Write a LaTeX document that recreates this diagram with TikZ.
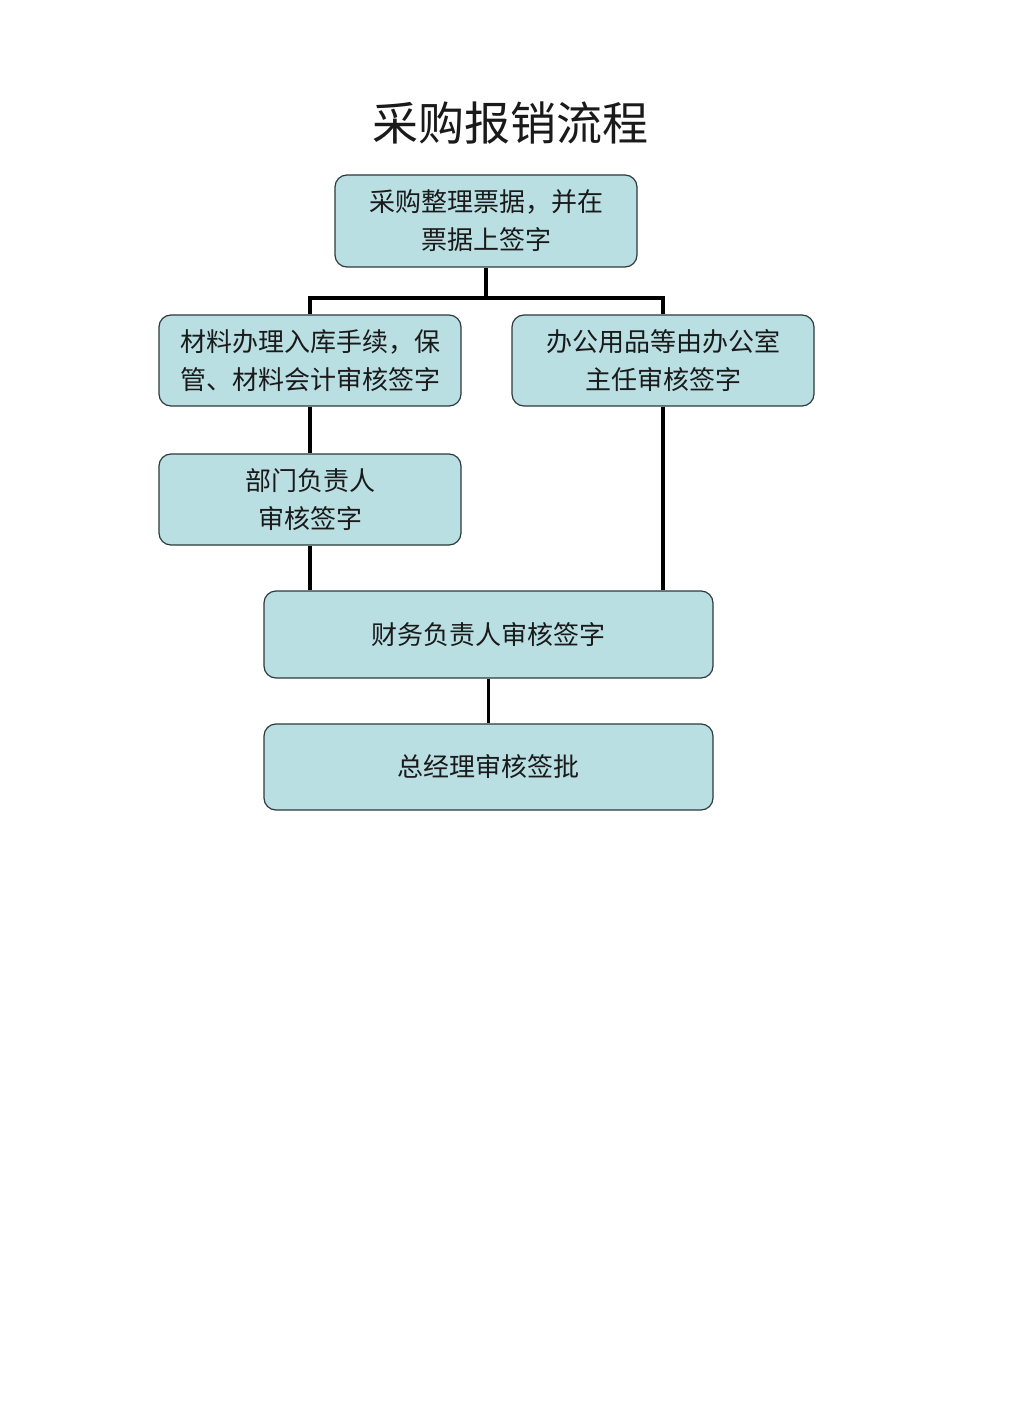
\documentclass[tikz,border=0pt]{standalone}
\usepackage{fontspec}
\setmainfont{Noto Sans CJK SC}
\usepackage{tikz}
\usetikzlibrary{positioning,calc}
\definecolor{boxfill}{HTML}{BADFE3}
\definecolor{boxline}{HTML}{2E3A3C}
\definecolor{ink}{HTML}{1A1A1A}

\begin{document}
\begin{tikzpicture}[x=0.5pt,y=-0.5pt,
  stepbox/.style={draw=boxline,fill=boxfill,rounded corners=6pt,line width=0.6pt,
    text=ink,font=\fontsize{13}{19}\selectfont,align=center,inner sep=0pt},
  link/.style={line width=1.8pt,black}]
  \useasboundingbox[fill=white] (0,0) rectangle (1018,1428);
  \node[text=ink,font=\fontsize{23}{28}\selectfont] (title) at (510,123) {采购报销流程};
  \node[stepbox,minimum width=151pt,minimum height=46pt] (top) at (486,221) {采购整理票据，并在\\票据上签字};
  \node[stepbox,minimum width=151pt,minimum height=45.5pt] (left1) at (310,360.5) {材料办理入库手续，保\\管、材料会计审核签字};
  \node[stepbox,minimum width=151pt,minimum height=45.5pt] (right1) at (663,360.5) {办公用品等由办公室\\主任审核签字};
  \node[stepbox,minimum width=151pt,minimum height=45.5pt] (left2) at (310,499.5) {部门负责人\\审核签字};
  \node[stepbox,minimum width=224.5pt,minimum height=43.5pt] (fin) at (488.5,634.5) {财务负责人审核签字};
  \node[stepbox,minimum width=224.5pt,minimum height=43pt] (gm) at (488.5,767) {总经理审核签批};
  \coordinate (bus) at (486,298);
  \draw[link] (top.south) -- (bus);
  \draw[link] (left1.north) |- (bus) -| (right1.north);
  \draw[link] (left1.south) -- (left2.north);
  \draw[link] (left2.south) -- (left2.south |- fin.north);
  \draw[link] (right1.south) -- (right1.south |- fin.north);
  \draw[link] (fin.south) -- (gm.north);
\end{tikzpicture}
\end{document}
